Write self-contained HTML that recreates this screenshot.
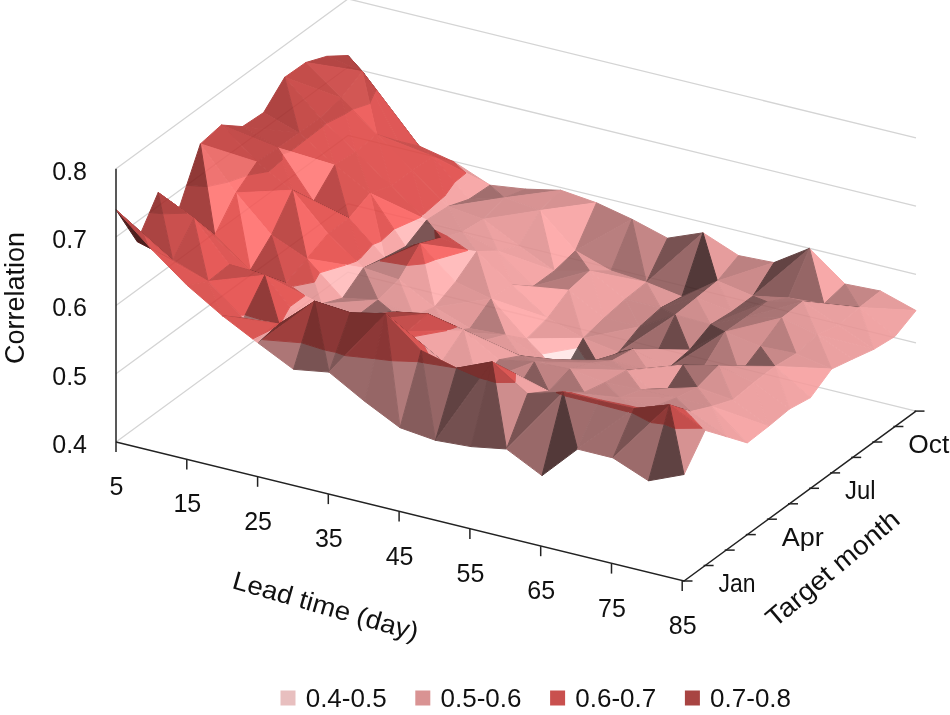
<!DOCTYPE html>
<html><head><meta charset="utf-8"><title>Correlation surface</title><style>html,body{margin:0;padding:0;background:#fff}svg{display:block}</style></head><body>
<svg width="950" height="715" viewBox="0 0 950 715">
<rect width="950" height="715" fill="#fff"/>
<g fill="none" stroke="#d4d4d4" stroke-width="1.3"><polyline points="116.0,442.0 348.0,272.1 916.0,411.1"/><polyline points="116.0,373.7 348.0,203.8 916.0,342.8"/><polyline points="116.0,305.4 348.0,135.4 916.0,274.4"/><polyline points="116.0,237.1 348.0,67.1 916.0,206.1"/><polyline points="116.0,168.8 348.0,-1.1 916.0,137.9"/></g>
<g opacity="0.88" stroke-width="1.0" stroke-linejoin="round"><polygon points="358.6,69.7 383.5,103.2 371.3,84.8" fill="#360100" stroke="#360100"/>
<polygon points="348.0,55.5 358.6,69.7 371.3,84.8 362.4,71.5" fill="#380100" stroke="#380100"/>
<polygon points="326.9,56.3 348.0,55.5 362.4,71.5" fill="#a82d2b" stroke="#a82d2b"/>
<polygon points="371.3,84.8 383.5,103.2 419.0,146.0 376.2,89.6" fill="#360100" stroke="#360100"/>
<polygon points="362.4,71.5 371.3,84.8 376.2,89.6" fill="#380100" stroke="#380100"/>
<polygon points="374.0,94.1 397.9,141.0 419.0,146.0 376.2,89.6" fill="#db4240" stroke="#db4240"/>
<polygon points="362.4,71.5 374.0,94.1 376.2,89.6" fill="#bc3432" stroke="#bc3432"/>
<polygon points="451.3,160.7 454.5,162.2 453.8,162.0" fill="#d88989" stroke="#d88989"/>
<polygon points="419.0,146.0 451.3,160.7 453.8,162.0 433.4,156.5" fill="#c43937" stroke="#c43937"/>
<polygon points="397.9,141.0 419.0,146.0 433.4,156.5" fill="#c33936" stroke="#c33936"/>
<polygon points="453.8,162.0 454.5,162.2 490.0,185.2 466.0,173.1" fill="#e29090" stroke="#e29090"/>
<polygon points="433.4,156.5 453.8,162.0 466.0,173.1" fill="#cc3c3a" stroke="#cc3c3a"/>
<polygon points="454.7,182.2 468.9,199.3 490.0,185.2 466.0,173.1" fill="#f79e9e" stroke="#f79e9e"/>
<polygon points="433.4,156.5 454.7,182.2 466.0,173.1" fill="#e04442" stroke="#e04442"/>
<polygon points="490.0,185.2 525.5,189.1 504.4,197.8" fill="#b26f6f" stroke="#b26f6f"/>
<polygon points="468.9,199.3 490.0,185.2 504.4,197.8" fill="#955b5b" stroke="#955b5b"/>
<polygon points="504.4,197.8 525.5,189.1 561.0,190.3" fill="#a56666" stroke="#a56666"/>
<polygon points="504.4,197.8 539.9,210.5 561.0,190.3" fill="#d38585" stroke="#d38585"/>
<polygon points="539.9,210.5 561.0,190.3 596.5,202.8" fill="#d18484" stroke="#d18484"/>
<polygon points="539.9,210.5 575.4,250.8 596.5,202.8" fill="#f89f9f" stroke="#f89f9f"/>
<polygon points="575.4,250.8 596.5,202.8 632.0,219.3" fill="#ad6b6b" stroke="#ad6b6b"/>
<polygon points="575.4,250.8 610.9,270.9 632.0,219.3" fill="#b06e6e" stroke="#b06e6e"/>
<polygon points="632.0,219.3 667.5,238.2 646.4,282.4" fill="#bc7676" stroke="#bc7676"/>
<polygon points="610.9,270.9 632.0,219.3 646.4,282.4" fill="#965c5c" stroke="#965c5c"/>
<polygon points="646.4,282.4 667.5,238.2 703.0,232.8" fill="#663b3b" stroke="#663b3b"/>
<polygon points="646.4,282.4 681.9,296.7 703.0,232.8" fill="#8b5555" stroke="#8b5555"/>
<polygon points="703.0,232.8 738.5,255.6 717.4,281.0" fill="#e39090" stroke="#e39090"/>
<polygon points="681.9,296.7 703.0,232.8 717.4,281.0" fill="#3c1e1e" stroke="#3c1e1e"/>
<polygon points="717.4,281.0 738.5,255.6 774.0,262.6" fill="#b37070" stroke="#b37070"/>
<polygon points="717.4,281.0 752.9,296.1 774.0,262.6" fill="#c67c7c" stroke="#c67c7c"/>
<polygon points="752.9,296.1 774.0,262.6 809.5,248.4" fill="#4e2a2a" stroke="#4e2a2a"/>
<polygon points="752.9,296.1 788.4,298.0 809.5,248.4" fill="#7a4848" stroke="#7a4848"/>
<polygon points="809.5,248.4 845.0,284.0 823.9,303.9" fill="#f79e9e" stroke="#f79e9e"/>
<polygon points="788.4,298.0 809.5,248.4 823.9,303.9" fill="#885252" stroke="#885252"/>
<polygon points="845.0,284.0 880.5,291.0 859.4,307.5" fill="#be7777" stroke="#be7777"/>
<polygon points="823.9,303.9 845.0,284.0 859.4,307.5" fill="#aa6a6a" stroke="#aa6a6a"/>
<polygon points="859.4,307.5 880.5,291.0 916.0,310.6" fill="#e29090" stroke="#e29090"/>
<polygon points="859.4,307.5 894.9,336.5 916.0,310.6" fill="#ef9999" stroke="#ef9999"/>
<polygon points="305.8,62.5 326.9,56.3 362.4,71.5" fill="#aa2d2b" stroke="#aa2d2b"/>
<polygon points="305.8,62.5 341.3,98.1 362.4,71.5" fill="#c93d3b" stroke="#c93d3b"/>
<polygon points="374.0,94.1 397.9,141.0 376.8,134.5 369.7,103.6" fill="#db4240" stroke="#db4240"/>
<polygon points="362.4,71.5 374.0,94.1 369.7,103.6" fill="#bb3432" stroke="#bb3432"/>
<polygon points="369.7,103.6 376.8,134.5 352.4,109.4" fill="#ec4e4c" stroke="#ec4e4c"/>
<polygon points="341.3,98.1 362.4,71.5 369.7,103.6 352.4,109.4" fill="#cc403d" stroke="#cc403d"/>
<polygon points="376.8,134.5 397.9,141.0 433.4,156.5" fill="#c23836" stroke="#c23836"/>
<polygon points="376.8,134.5 412.3,170.6 433.4,156.5" fill="#dc4340" stroke="#dc4340"/>
<polygon points="454.7,182.2 468.9,199.3 447.8,206.6 444.8,196.0" fill="#f49c9c" stroke="#f49c9c"/>
<polygon points="433.4,156.5 454.7,182.2 444.8,196.0" fill="#dd4341" stroke="#dd4341"/>
<polygon points="444.8,196.0 447.8,206.6 440.7,199.4" fill="#f39c9c" stroke="#f39c9c"/>
<polygon points="412.3,170.6 433.4,156.5 444.8,196.0 440.7,199.4" fill="#dc4340" stroke="#dc4340"/>
<polygon points="447.8,206.6 468.9,199.3 504.4,197.8" fill="#985d5d" stroke="#985d5d"/>
<polygon points="447.8,206.6 483.3,219.3 504.4,197.8" fill="#d18484" stroke="#d18484"/>
<polygon points="483.3,219.3 504.4,197.8 539.9,210.5" fill="#d18484" stroke="#d18484"/>
<polygon points="483.3,219.3 518.8,245.8 539.9,210.5" fill="#e49191" stroke="#e49191"/>
<polygon points="539.9,210.5 575.4,250.8 554.3,270.9" fill="#fda2a2" stroke="#fda2a2"/>
<polygon points="518.8,245.8 539.9,210.5 554.3,270.9" fill="#e08f8f" stroke="#e08f8f"/>
<polygon points="575.4,250.8 610.9,270.9 589.8,271.0" fill="#e18f8f" stroke="#e18f8f"/>
<polygon points="554.3,270.9 575.4,250.8 589.8,271.0" fill="#995e5e" stroke="#995e5e"/>
<polygon points="589.8,271.0 610.9,270.9 646.4,282.4" fill="#d08383" stroke="#d08383"/>
<polygon points="589.8,271.0 625.3,299.2 646.4,282.4" fill="#ed9797" stroke="#ed9797"/>
<polygon points="646.4,282.4 681.9,296.7 660.8,307.9" fill="#da8b8b" stroke="#da8b8b"/>
<polygon points="625.3,299.2 646.4,282.4 660.8,307.9" fill="#c57c7c" stroke="#c57c7c"/>
<polygon points="660.8,307.9 681.9,296.7 717.4,281.0" fill="#563030" stroke="#563030"/>
<polygon points="660.8,307.9 696.3,298.1 717.4,281.0" fill="#6c3f3f" stroke="#6c3f3f"/>
<polygon points="717.4,281.0 752.9,296.1 731.8,311.6" fill="#db8b8b" stroke="#db8b8b"/>
<polygon points="696.3,298.1 717.4,281.0 731.8,311.6" fill="#d78888" stroke="#d78888"/>
<polygon points="752.9,296.1 788.4,298.0 767.3,301.8" fill="#a86868" stroke="#a86868"/>
<polygon points="731.8,311.6 752.9,296.1 767.3,301.8" fill="#6d4040" stroke="#6d4040"/>
<polygon points="788.4,298.0 823.9,303.9 802.8,301.6" fill="#b87373" stroke="#b87373"/>
<polygon points="767.3,301.8 788.4,298.0 802.8,301.6" fill="#9e6161" stroke="#9e6161"/>
<polygon points="802.8,301.6 823.9,303.9 859.4,307.5" fill="#1b0707" stroke="#1b0707"/>
<polygon points="802.8,301.6 838.3,325.3 859.4,307.5" fill="#e79393" stroke="#e79393"/>
<polygon points="859.4,307.5 894.9,336.5 873.8,349.3" fill="#ee9898" stroke="#ee9898"/>
<polygon points="838.3,325.3 859.4,307.5 873.8,349.3" fill="#e89494" stroke="#e89494"/>
<polygon points="284.7,77.3 305.8,62.5 341.3,98.1" fill="#bd3532" stroke="#bd3532"/>
<polygon points="284.7,77.3 320.2,118.1 341.3,98.1" fill="#c53936" stroke="#c53936"/>
<polygon points="352.4,109.4 376.8,134.5 355.7,152.0 345.5,113.8" fill="#df4441" stroke="#df4441"/>
<polygon points="341.3,98.1 352.4,109.4 345.5,113.8" fill="#bf3633" stroke="#bf3633"/>
<polygon points="345.5,113.8 355.7,152.0 326.0,123.6" fill="#de4341" stroke="#de4341"/>
<polygon points="320.2,118.1 341.3,98.1 345.5,113.8 326.0,123.6" fill="#be3533" stroke="#be3533"/>
<polygon points="376.8,134.5 412.3,170.6 391.2,186.0" fill="#dd4340" stroke="#dd4340"/>
<polygon points="355.7,152.0 376.8,134.5 391.2,186.0" fill="#dc4340" stroke="#dc4340"/>
<polygon points="440.7,199.4 447.8,206.6 426.7,220.0 424.8,213.3" fill="#f39c9c" stroke="#f39c9c"/>
<polygon points="412.3,170.6 440.7,199.4 424.8,213.3" fill="#dc4340" stroke="#dc4340"/>
<polygon points="424.8,213.3 426.7,220.0 421.9,215.4" fill="#f29b9b" stroke="#f29b9b"/>
<polygon points="391.2,186.0 412.3,170.6 424.8,213.3 421.9,215.4" fill="#dc4240" stroke="#dc4240"/>
<polygon points="447.8,206.6 483.3,219.3 462.2,232.1" fill="#d78888" stroke="#d78888"/>
<polygon points="426.7,220.0 447.8,206.6 462.2,232.1" fill="#d58787" stroke="#d58787"/>
<polygon points="483.3,219.3 518.8,245.8 497.7,251.0" fill="#eb9696" stroke="#eb9696"/>
<polygon points="462.2,232.1 483.3,219.3 497.7,251.0" fill="#e29090" stroke="#e29090"/>
<polygon points="497.7,251.0 518.8,245.8 554.3,270.9" fill="#e99595" stroke="#e99595"/>
<polygon points="497.7,251.0 533.2,286.3 554.3,270.9" fill="#f39c9c" stroke="#f39c9c"/>
<polygon points="533.2,286.3 554.3,270.9 589.8,271.0" fill="#9d6161" stroke="#9d6161"/>
<polygon points="533.2,286.3 568.7,290.2 589.8,271.0" fill="#ac6b6b" stroke="#ac6b6b"/>
<polygon points="589.8,271.0 625.3,299.2 604.2,318.0" fill="#ed9797" stroke="#ed9797"/>
<polygon points="568.7,290.2 589.8,271.0 604.2,318.0" fill="#ec9797" stroke="#ec9797"/>
<polygon points="625.3,299.2 660.8,307.9 639.7,326.7" fill="#c37b7b" stroke="#c37b7b"/>
<polygon points="604.2,318.0 625.3,299.2 639.7,326.7" fill="#c37b7b" stroke="#c37b7b"/>
<polygon points="660.8,307.9 696.3,298.1 675.2,314.9" fill="#6c3f3f" stroke="#6c3f3f"/>
<polygon points="639.7,326.7 660.8,307.9 675.2,314.9" fill="#623838" stroke="#623838"/>
<polygon points="696.3,298.1 731.8,311.6 710.7,324.6" fill="#d88989" stroke="#d88989"/>
<polygon points="675.2,314.9 696.3,298.1 710.7,324.6" fill="#c97f7f" stroke="#c97f7f"/>
<polygon points="710.7,324.6 731.8,311.6 767.3,301.8" fill="#6f4141" stroke="#6f4141"/>
<polygon points="710.7,324.6 746.2,317.3 767.3,301.8" fill="#794848" stroke="#794848"/>
<polygon points="746.2,317.3 767.3,301.8 802.8,301.6" fill="#9b5f5f" stroke="#9b5f5f"/>
<polygon points="746.2,317.3 781.7,318.0 802.8,301.6" fill="#9f6262" stroke="#9f6262"/>
<polygon points="802.8,301.6 838.3,325.3 817.2,334.7" fill="#e89494" stroke="#e89494"/>
<polygon points="781.7,318.0 802.8,301.6 817.2,334.7" fill="#dd8d8d" stroke="#dd8d8d"/>
<polygon points="817.2,334.7 838.3,325.3 873.8,349.3" fill="#e99494" stroke="#e99494"/>
<polygon points="817.2,334.7 852.7,359.0 873.8,349.3" fill="#e99595" stroke="#e99595"/>
<polygon points="284.7,77.3 320.2,118.1 299.1,133.1" fill="#bf3633" stroke="#bf3633"/>
<polygon points="263.6,112.6 284.7,77.3 299.1,133.1" fill="#a42b29" stroke="#a42b29"/>
<polygon points="326.0,123.6 355.7,152.0 334.6,165.1 322.8,126.5" fill="#db4240" stroke="#db4240"/>
<polygon points="320.2,118.1 326.0,123.6 322.8,126.5" fill="#bb3432" stroke="#bb3432"/>
<polygon points="322.8,126.5 334.6,165.1 306.1,139.3" fill="#da423f" stroke="#da423f"/>
<polygon points="299.1,133.1 320.2,118.1 322.8,126.5 306.1,139.3" fill="#bb3431" stroke="#bb3431"/>
<polygon points="355.7,152.0 391.2,186.0 370.1,193.3" fill="#da423f" stroke="#da423f"/>
<polygon points="334.6,165.1 355.7,152.0 370.1,193.3" fill="#d7413e" stroke="#d7413e"/>
<polygon points="421.9,215.4 426.7,220.0 420.9,217.2" fill="#f19a9a" stroke="#f19a9a"/>
<polygon points="370.1,193.3 391.2,186.0 421.9,215.4 420.9,217.2" fill="#da423f" stroke="#da423f"/>
<polygon points="394.0,229.2 405.6,246.6 426.7,220.0 420.9,217.2" fill="#ffb8b8" stroke="#ffb8b8"/>
<polygon points="370.1,193.3 394.0,229.2 420.9,217.2" fill="#fb5c5a" stroke="#fb5c5a"/>
<polygon points="426.7,220.0 462.2,232.1 447.2,236.3 434.7,230.0" fill="#d68787" stroke="#d68787"/>
<polygon points="447.2,236.3 441.1,238.0 434.7,230.0" fill="#c13836" stroke="#c13836"/>
<polygon points="405.6,246.6 426.7,220.0 434.7,230.0 435.5,239.3" fill="#6a3e3e" stroke="#6a3e3e"/>
<polygon points="434.7,230.0 441.1,238.0 435.5,239.3" fill="#661412" stroke="#661412"/>
<polygon points="462.2,232.1 497.7,251.0 476.6,251.6" fill="#e08e8e" stroke="#e08e8e"/>
<polygon points="447.2,236.3 462.2,232.1 476.6,251.6 460.6,245.4" fill="#d98a8a" stroke="#d98a8a"/>
<polygon points="441.1,238.0 447.2,236.3 460.6,245.4" fill="#c43937" stroke="#c43937"/>
<polygon points="497.7,251.0 533.2,286.3 512.1,285.0" fill="#ef9999" stroke="#ef9999"/>
<polygon points="476.6,251.6 497.7,251.0 512.1,285.0" fill="#ef9898" stroke="#ef9898"/>
<polygon points="512.1,285.0 533.2,286.3 568.7,290.2" fill="#af6d6d" stroke="#af6d6d"/>
<polygon points="512.1,285.0 547.6,318.0 568.7,290.2" fill="#fba1a1" stroke="#fba1a1"/>
<polygon points="568.7,290.2 604.2,318.0 583.1,338.3" fill="#ec9797" stroke="#ec9797"/>
<polygon points="547.6,318.0 568.7,290.2 583.1,338.3" fill="#dd8c8c" stroke="#dd8c8c"/>
<polygon points="583.1,338.3 604.2,318.0 639.7,326.7" fill="#c27a7a" stroke="#c27a7a"/>
<polygon points="583.1,338.3 618.6,352.4 639.7,326.7" fill="#d08484" stroke="#d08484"/>
<polygon points="618.6,352.4 639.7,326.7 675.2,314.9" fill="#5d3535" stroke="#5d3535"/>
<polygon points="618.6,352.4 654.1,359.1 675.2,314.9" fill="#935a5a" stroke="#935a5a"/>
<polygon points="675.2,314.9 710.7,324.6 689.6,350.0" fill="#bf7878" stroke="#bf7878"/>
<polygon points="654.1,359.1 675.2,314.9 689.6,350.0" fill="#593232" stroke="#593232"/>
<polygon points="710.7,324.6 746.2,317.3 725.1,332.0" fill="#794848" stroke="#794848"/>
<polygon points="689.6,350.0 710.7,324.6 725.1,332.0" fill="#452424" stroke="#452424"/>
<polygon points="725.1,332.0 746.2,317.3 781.7,318.0" fill="#a06363" stroke="#a06363"/>
<polygon points="725.1,332.0 760.6,346.5 781.7,318.0" fill="#cd8181" stroke="#cd8181"/>
<polygon points="781.7,318.0 817.2,334.7 796.1,353.7" fill="#dc8c8c" stroke="#dc8c8c"/>
<polygon points="760.6,346.5 781.7,318.0 796.1,353.7" fill="#b06e6e" stroke="#b06e6e"/>
<polygon points="817.2,334.7 852.7,359.0 831.6,369.0" fill="#e99595" stroke="#e99595"/>
<polygon points="796.1,353.7 817.2,334.7 831.6,369.0" fill="#da8a8a" stroke="#da8a8a"/>
<polygon points="242.5,126.6 263.6,112.6 299.1,133.1" fill="#b0302e" stroke="#b0302e"/>
<polygon points="242.5,126.6 278.0,148.0 299.1,133.1" fill="#b1302e" stroke="#b1302e"/>
<polygon points="306.1,139.3 334.6,165.1 290.2,151.6" fill="#da423f" stroke="#da423f"/>
<polygon points="278.0,148.0 299.1,133.1 306.1,139.3 290.2,151.6" fill="#ba3431" stroke="#ba3431"/>
<polygon points="282.1,154.1 313.5,201.4 334.6,165.1 290.2,151.6" fill="#ff7471" stroke="#ff7471"/>
<polygon points="278.0,148.0 282.1,154.1 290.2,151.6" fill="#f16663" stroke="#f16663"/>
<polygon points="334.6,165.1 370.1,193.3 349.0,218.3" fill="#d7413e" stroke="#d7413e"/>
<polygon points="313.5,201.4 334.6,165.1 349.0,218.3" fill="#b33230" stroke="#b33230"/>
<polygon points="394.0,229.2 405.6,246.6 384.5,257.7 380.9,241.3" fill="#f69e9e" stroke="#f69e9e"/>
<polygon points="370.1,193.3 394.0,229.2 380.9,241.3" fill="#df4441" stroke="#df4441"/>
<polygon points="380.9,241.3 384.5,257.7 372.7,244.6" fill="#ffadad" stroke="#ffadad"/>
<polygon points="349.0,218.3 370.1,193.3 380.9,241.3 372.7,244.6" fill="#f0514f" stroke="#f0514f"/>
<polygon points="405.6,246.6 435.5,239.3 413.5,245.1" fill="#764646" stroke="#764646"/>
<polygon points="435.5,239.3 441.1,238.0 420.0,243.8 413.5,245.1" fill="#6a1514" stroke="#6a1514"/>
<polygon points="384.5,257.7 405.6,246.6 413.5,245.1 400.7,251.4" fill="#5d3535" stroke="#5d3535"/>
<polygon points="413.5,245.1 420.0,243.8 400.7,251.4" fill="#661412" stroke="#661412"/>
<polygon points="460.6,245.4 476.6,251.6 467.9,250.4" fill="#d98a8a" stroke="#d98a8a"/>
<polygon points="420.0,243.8 441.1,238.0 460.6,245.4 467.9,250.4" fill="#c43937" stroke="#c43937"/>
<polygon points="434.9,259.8 455.5,281.9 476.6,251.6 467.9,250.4" fill="#ffb5b5" stroke="#ffb5b5"/>
<polygon points="420.0,243.8 434.9,259.8 467.9,250.4" fill="#f85a57" stroke="#f85a57"/>
<polygon points="476.6,251.6 512.1,285.0 491.0,298.8" fill="#f19a9a" stroke="#f19a9a"/>
<polygon points="455.5,281.9 476.6,251.6 491.0,298.8" fill="#d28585" stroke="#d28585"/>
<polygon points="491.0,298.8 512.1,285.0 547.6,318.0" fill="#f19a9a" stroke="#f19a9a"/>
<polygon points="491.0,298.8 526.5,338.9 547.6,318.0" fill="#fea4a4" stroke="#fea4a4"/>
<polygon points="526.5,338.9 547.6,318.0 583.1,338.3" fill="#e18f8f" stroke="#e18f8f"/>
<polygon points="541.3,354.1 562.0,375.6 577.9,347.6" fill="#ffe5e5" stroke="#ffe5e5"/>
<polygon points="526.5,338.9 541.3,354.1 577.9,347.6 583.1,338.3" fill="#ffafaf" stroke="#ffafaf"/>
<polygon points="583.1,338.3 618.6,352.4 597.5,363.4" fill="#da8a8a" stroke="#da8a8a"/>
<polygon points="562.0,375.6 577.9,347.6 590.0,366.0" fill="#5a4444" stroke="#5a4444"/>
<polygon points="577.9,347.6 583.1,338.3 597.5,363.4 590.0,366.0" fill="#532e2e" stroke="#532e2e"/>
<polygon points="618.6,352.4 654.1,359.1 633.0,349.2" fill="#1b0707" stroke="#1b0707"/>
<polygon points="597.5,363.4 618.6,352.4 633.0,349.2" fill="#5c3434" stroke="#5c3434"/>
<polygon points="633.0,349.2 654.1,359.1 689.6,350.0" fill="#1b0707" stroke="#1b0707"/>
<polygon points="633.0,349.2 668.5,368.2 689.6,350.0" fill="#e08f8f" stroke="#e08f8f"/>
<polygon points="668.5,368.2 689.6,350.0 725.1,332.0" fill="#492727" stroke="#492727"/>
<polygon points="668.5,368.2 704.0,366.6 725.1,332.0" fill="#814d4d" stroke="#814d4d"/>
<polygon points="725.1,332.0 760.6,346.5 739.5,373.9" fill="#cf8383" stroke="#cf8383"/>
<polygon points="704.0,366.6 725.1,332.0 739.5,373.9" fill="#a66767" stroke="#a66767"/>
<polygon points="760.6,346.5 796.1,353.7 775.0,366.4" fill="#c17979" stroke="#c17979"/>
<polygon points="739.5,373.9 760.6,346.5 775.0,366.4" fill="#6e4141" stroke="#6e4141"/>
<polygon points="775.0,366.4 796.1,353.7 831.6,369.0" fill="#dc8c8c" stroke="#dc8c8c"/>
<polygon points="775.0,366.4 810.5,397.6 831.6,369.0" fill="#f69d9d" stroke="#f69d9d"/>
<polygon points="221.4,125.0 242.5,126.6 278.0,148.0" fill="#af2f2d" stroke="#af2f2d"/>
<polygon points="221.4,125.0 256.9,162.0 278.0,148.0" fill="#bd3533" stroke="#bd3533"/>
<polygon points="282.1,154.1 313.5,201.4 292.4,190.2 282.1,159.9" fill="#d9413f" stroke="#d9413f"/>
<polygon points="278.0,148.0 282.1,154.1 282.1,159.9" fill="#ba3431" stroke="#ba3431"/>
<polygon points="282.1,159.9 292.4,190.2 268.8,171.4" fill="#d7403e" stroke="#d7403e"/>
<polygon points="256.9,162.0 278.0,148.0 282.1,159.9 268.8,171.4" fill="#b83330" stroke="#b83330"/>
<polygon points="292.4,190.2 313.5,201.4 349.0,218.3" fill="#360100" stroke="#360100"/>
<polygon points="292.4,190.2 327.9,233.7 349.0,218.3" fill="#e14542" stroke="#e14542"/>
<polygon points="372.7,244.6 384.5,257.7 363.4,268.0 360.6,258.1" fill="#f49c9c" stroke="#f49c9c"/>
<polygon points="349.0,218.3 372.7,244.6 360.6,258.1" fill="#dd4340" stroke="#dd4340"/>
<polygon points="360.6,258.1 363.4,268.0 356.4,261.2" fill="#f39b9b" stroke="#f39b9b"/>
<polygon points="327.9,233.7 349.0,218.3 360.6,258.1 356.4,261.2" fill="#dc4340" stroke="#dc4340"/>
<polygon points="363.4,268.0 384.5,257.7 400.7,251.4 380.1,260.9" fill="#5e3535" stroke="#5e3535"/>
<polygon points="400.7,251.4 420.0,243.8 380.1,260.9" fill="#661412" stroke="#661412"/>
<polygon points="363.4,268.0 398.9,279.8 407.4,265.4 380.1,260.9" fill="#b57171" stroke="#b57171"/>
<polygon points="407.4,265.4 420.0,243.8 380.1,260.9" fill="#a32c2a" stroke="#a32c2a"/>
<polygon points="434.9,259.8 455.5,281.9 434.4,307.2 424.6,263.7" fill="#ffabab" stroke="#ffabab"/>
<polygon points="420.0,243.8 434.9,259.8 424.6,263.7" fill="#ee4f4d" stroke="#ee4f4d"/>
<polygon points="398.9,279.8 407.4,265.4 424.6,263.7 434.4,307.2" fill="#e69393" stroke="#e69393"/>
<polygon points="407.4,265.4 420.0,243.8 424.6,263.7" fill="#d03e3c" stroke="#d03e3c"/>
<polygon points="434.4,307.2 455.5,281.9 491.0,298.8" fill="#d98989" stroke="#d98989"/>
<polygon points="434.4,307.2 469.9,328.6 491.0,298.8" fill="#dd8c8c" stroke="#dd8c8c"/>
<polygon points="491.0,298.8 526.5,338.9 505.4,335.0" fill="#f09999" stroke="#f09999"/>
<polygon points="469.9,328.6 491.0,298.8 505.4,335.0" fill="#aa6a6a" stroke="#aa6a6a"/>
<polygon points="541.3,354.1 562.0,375.6 551.2,367.1" fill="#f6c4c4" stroke="#f6c4c4"/>
<polygon points="526.5,338.9 541.3,354.1 551.2,367.1 541.0,359.0" fill="#e69393" stroke="#e69393"/>
<polygon points="505.4,335.0 526.5,338.9 541.0,359.0" fill="#e49191" stroke="#e49191"/>
<polygon points="551.2,367.1 562.0,375.6 590.0,366.0" fill="#251818" stroke="#251818"/>
<polygon points="541.0,359.0 551.2,367.1 590.0,366.0 597.5,363.4" fill="#1b0707" stroke="#1b0707"/>
<polygon points="541.0,359.0 576.5,366.2 597.5,363.4" fill="#c07979" stroke="#c07979"/>
<polygon points="576.5,366.2 597.5,363.4 633.0,349.2" fill="#1b0707" stroke="#1b0707"/>
<polygon points="576.5,366.2 612.0,360.7 633.0,349.2" fill="#834f4f" stroke="#834f4f"/>
<polygon points="633.0,349.2 668.5,368.2 647.5,370.0" fill="#e08f8f" stroke="#e08f8f"/>
<polygon points="612.0,360.7 633.0,349.2 647.5,370.0" fill="#ca7f7f" stroke="#ca7f7f"/>
<polygon points="668.5,368.2 704.0,366.6 683.0,365.0" fill="#1b0707" stroke="#1b0707"/>
<polygon points="647.5,370.0 668.5,368.2 683.0,365.0" fill="#1b0707" stroke="#1b0707"/>
<polygon points="704.0,366.6 739.5,373.9 718.5,365.8" fill="#1b0707" stroke="#1b0707"/>
<polygon points="683.0,365.0 704.0,366.6 718.5,365.8" fill="#1b0707" stroke="#1b0707"/>
<polygon points="718.5,365.8 739.5,373.9 775.0,366.4" fill="#1b0707" stroke="#1b0707"/>
<polygon points="718.5,365.8 754.0,382.4 775.0,366.4" fill="#dd8d8d" stroke="#dd8d8d"/>
<polygon points="775.0,366.4 810.5,397.6 789.5,409.0" fill="#f09999" stroke="#f09999"/>
<polygon points="754.0,382.4 775.0,366.4 789.5,409.0" fill="#eb9696" stroke="#eb9696"/>
<polygon points="200.4,143.9 221.4,125.0 256.9,162.0" fill="#c03634" stroke="#c03634"/>
<polygon points="228.0,182.1 235.9,192.9 248.0,175.1" fill="#ff6c69" stroke="#ff6c69"/>
<polygon points="200.4,143.9 228.0,182.1 248.0,175.1 256.9,162.0" fill="#e95e5b" stroke="#e95e5b"/>
<polygon points="235.9,192.9 248.0,175.1 268.8,171.4 292.4,190.2" fill="#d6403e" stroke="#d6403e"/>
<polygon points="248.0,175.1 256.9,162.0 268.8,171.4" fill="#b73330" stroke="#b73330"/>
<polygon points="235.9,192.9 271.4,235.0 292.4,190.2" fill="#f45553" stroke="#f45553"/>
<polygon points="292.4,190.2 327.9,233.7 306.9,258.7" fill="#f55755" stroke="#f55755"/>
<polygon points="271.4,235.0 292.4,190.2 306.9,258.7" fill="#b63431" stroke="#b63431"/>
<polygon points="356.4,261.2 363.4,268.0 345.4,265.1" fill="#fba1a1" stroke="#fba1a1"/>
<polygon points="306.9,258.7 327.9,233.7 356.4,261.2 345.4,265.1" fill="#e44643" stroke="#e44643"/>
<polygon points="319.5,272.8 342.4,298.2 363.4,268.0 345.4,265.1" fill="#ffb9b9" stroke="#ffb9b9"/>
<polygon points="306.9,258.7 319.5,272.8 345.4,265.1" fill="#fc5e5b" stroke="#fc5e5b"/>
<polygon points="363.4,268.0 398.9,279.8 377.9,300.0" fill="#cf8383" stroke="#cf8383"/>
<polygon points="342.4,298.2 363.4,268.0 377.9,300.0" fill="#965c5c" stroke="#965c5c"/>
<polygon points="398.9,279.8 434.4,307.2 413.4,316.2" fill="#ec9797" stroke="#ec9797"/>
<polygon points="377.9,300.0 398.9,279.8 413.4,316.2" fill="#db8b8b" stroke="#db8b8b"/>
<polygon points="434.4,307.2 469.9,328.6 448.9,331.7" fill="#e49191" stroke="#e49191"/>
<polygon points="413.4,316.2 434.4,307.2 448.9,331.7" fill="#dd8c8c" stroke="#dd8c8c"/>
<polygon points="448.9,331.7 469.9,328.6 505.4,335.0" fill="#bd7676" stroke="#bd7676"/>
<polygon points="448.9,331.7 484.4,340.4 505.4,335.0" fill="#c77e7e" stroke="#c77e7e"/>
<polygon points="505.4,335.0 541.0,359.0 519.9,355.9" fill="#e59292" stroke="#e59292"/>
<polygon points="484.4,340.4 505.4,335.0 519.9,355.9" fill="#dc8c8c" stroke="#dc8c8c"/>
<polygon points="541.0,359.0 576.5,366.2 555.4,359.8" fill="#1b0707" stroke="#1b0707"/>
<polygon points="519.9,355.9 541.0,359.0 555.4,359.8" fill="#1b0707" stroke="#1b0707"/>
<polygon points="555.4,359.8 576.5,366.2 612.0,360.7" fill="#1b0707" stroke="#1b0707"/>
<polygon points="555.4,359.8 590.9,363.1 612.0,360.7" fill="#ae6c6c" stroke="#ae6c6c"/>
<polygon points="612.0,360.7 647.5,370.0 626.4,370.4" fill="#c77d7d" stroke="#c77d7d"/>
<polygon points="590.9,363.1 612.0,360.7 626.4,370.4" fill="#c07979" stroke="#c07979"/>
<polygon points="626.4,370.4 647.5,370.0 683.0,365.0" fill="#1b0707" stroke="#1b0707"/>
<polygon points="626.4,370.4 661.9,397.5 683.0,365.0" fill="#e89494" stroke="#e89494"/>
<polygon points="683.0,365.0 718.5,365.8 697.4,387.4" fill="#9b5f5f" stroke="#9b5f5f"/>
<polygon points="661.9,397.5 683.0,365.0 697.4,387.4" fill="#5f3636" stroke="#5f3636"/>
<polygon points="718.5,365.8 754.0,382.4 732.9,399.9" fill="#dd8c8c" stroke="#dd8c8c"/>
<polygon points="697.4,387.4 718.5,365.8 732.9,399.9" fill="#d08484" stroke="#d08484"/>
<polygon points="754.0,382.4 789.5,409.0 768.4,426.4" fill="#eb9696" stroke="#eb9696"/>
<polygon points="732.9,399.9 754.0,382.4 768.4,426.4" fill="#eb9696" stroke="#eb9696"/>
<polygon points="228.0,182.1 235.9,192.9 214.8,235.0 207.1,186.6" fill="#ff706d" stroke="#ff706d"/>
<polygon points="200.4,143.9 228.0,182.1 207.1,186.6" fill="#ed615f" stroke="#ed615f"/>
<polygon points="179.3,207.8 186.7,185.3 207.1,186.6 214.8,235.0" fill="#992826" stroke="#992826"/>
<polygon points="186.7,185.3 200.4,143.9 207.1,186.6" fill="#821e1c" stroke="#821e1c"/>
<polygon points="235.9,192.9 271.4,235.0 250.3,270.3" fill="#ff6a68" stroke="#ff6a68"/>
<polygon points="214.8,235.0 235.9,192.9 250.3,270.3" fill="#e14542" stroke="#e14542"/>
<polygon points="271.4,235.0 306.9,258.7 285.8,283.1" fill="#cf3d3b" stroke="#cf3d3b"/>
<polygon points="250.3,270.3 271.4,235.0 285.8,283.1" fill="#a82e2c" stroke="#a82e2c"/>
<polygon points="319.5,272.8 342.4,298.2 321.3,304.0 314.3,282.1" fill="#f39b9b" stroke="#f39b9b"/>
<polygon points="306.9,258.7 319.5,272.8 314.3,282.1" fill="#dc4340" stroke="#dc4340"/>
<polygon points="314.3,282.1 321.3,304.0 291.7,286.6" fill="#e08f8f" stroke="#e08f8f"/>
<polygon points="285.8,283.1 306.9,258.7 314.3,282.1 291.7,286.6" fill="#cb3c39" stroke="#cb3c39"/>
<polygon points="321.3,304.0 342.4,298.2 377.9,300.0" fill="#a86868" stroke="#a86868"/>
<polygon points="321.3,304.0 356.8,316.1 377.9,300.0" fill="#d48686" stroke="#d48686"/>
<polygon points="377.9,300.0 413.4,316.2 392.3,311.9" fill="#d98a8a" stroke="#d98a8a"/>
<polygon points="356.8,316.1 377.9,300.0 392.3,311.9" fill="#875151" stroke="#875151"/>
<polygon points="413.4,316.2 448.9,331.7 431.5,317.1 424.5,314.4" fill="#1b0707" stroke="#1b0707"/>
<polygon points="431.5,317.1 427.8,313.9 424.5,314.4" fill="#360100" stroke="#360100"/>
<polygon points="392.3,311.9 413.4,316.2 424.5,314.4 395.9,312.1" fill="#1b0707" stroke="#1b0707"/>
<polygon points="424.5,314.4 427.8,313.9 395.9,312.1" fill="#360100" stroke="#360100"/>
<polygon points="431.5,317.1 448.9,331.7 484.4,340.4 437.9,318.7" fill="#1b0707" stroke="#1b0707"/>
<polygon points="427.8,313.9 431.5,317.1 437.9,318.7" fill="#360100" stroke="#360100"/>
<polygon points="456.6,326.9 463.3,329.9 484.4,340.4 437.9,318.7" fill="#1b0707" stroke="#1b0707"/>
<polygon points="427.8,313.9 456.6,326.9 437.9,318.7" fill="#360100" stroke="#360100"/>
<polygon points="463.3,329.9 484.4,340.4 519.9,355.9" fill="#1b0707" stroke="#1b0707"/>
<polygon points="463.3,329.9 498.8,359.8 519.9,355.9" fill="#ed9898" stroke="#ed9898"/>
<polygon points="519.9,355.9 555.4,359.8 534.3,361.9" fill="#b16e6e" stroke="#b16e6e"/>
<polygon points="498.8,359.8 519.9,355.9 534.3,361.9" fill="#a96969" stroke="#a96969"/>
<polygon points="534.3,361.9 555.4,359.8 590.9,363.1" fill="#ae6c6c" stroke="#ae6c6c"/>
<polygon points="534.3,361.9 569.8,369.0 590.9,363.1" fill="#c07979" stroke="#c07979"/>
<polygon points="569.8,369.0 590.9,363.1 626.4,370.4" fill="#c17a7a" stroke="#c17a7a"/>
<polygon points="569.8,369.0 605.3,382.4 626.4,370.4" fill="#d98989" stroke="#d98989"/>
<polygon points="626.4,370.4 661.9,397.5 640.8,389.7" fill="#e59292" stroke="#e59292"/>
<polygon points="605.3,382.4 626.4,370.4 640.8,389.7" fill="#c17979" stroke="#c17979"/>
<polygon points="640.8,389.7 661.9,397.5 697.4,387.4" fill="#1b0707" stroke="#1b0707"/>
<polygon points="640.8,389.7 676.3,397.8 697.4,387.4" fill="#c57c7c" stroke="#c57c7c"/>
<polygon points="697.4,387.4 732.9,399.9 711.8,406.4" fill="#d78888" stroke="#d78888"/>
<polygon points="676.3,397.8 697.4,387.4 711.8,406.4" fill="#c87e7e" stroke="#c87e7e"/>
<polygon points="711.8,406.4 732.9,399.9 768.4,426.4" fill="#eb9696" stroke="#eb9696"/>
<polygon points="711.8,406.4 747.3,442.9 768.4,426.4" fill="#f59d9d" stroke="#f59d9d"/>
<polygon points="179.3,207.8 214.8,235.0 193.7,218.3" fill="#360100" stroke="#360100"/>
<polygon points="167.6,199.3 179.3,207.8 193.7,218.3 186.6,213.2" fill="#c93b39" stroke="#c93b39"/>
<polygon points="158.2,192.5 167.6,199.3 186.6,213.2" fill="#ac2e2c" stroke="#ac2e2c"/>
<polygon points="193.7,218.3 214.8,235.0 250.3,270.3" fill="#d03e3b" stroke="#d03e3b"/>
<polygon points="193.7,218.3 229.2,264.6 250.3,270.3" fill="#da423f" stroke="#da423f"/>
<polygon points="250.3,270.3 285.8,283.1 264.7,275.3" fill="#360100" stroke="#360100"/>
<polygon points="229.2,264.6 250.3,270.3 264.7,275.3" fill="#b43331" stroke="#b43331"/>
<polygon points="291.7,286.6 321.3,304.0 304.9,295.8" fill="#de8d8d" stroke="#de8d8d"/>
<polygon points="264.7,275.3 285.8,283.1 291.7,286.6 304.9,295.8" fill="#c93b39" stroke="#c93b39"/>
<polygon points="289.9,306.7 300.2,319.5 321.3,304.0 304.9,295.8" fill="#f89f9f" stroke="#f89f9f"/>
<polygon points="264.7,275.3 289.9,306.7 304.9,295.8" fill="#e14542" stroke="#e14542"/>
<polygon points="321.3,304.0 356.8,316.1 335.7,317.9" fill="#d38686" stroke="#d38686"/>
<polygon points="300.2,319.5 321.3,304.0 335.7,317.9" fill="#955b5b" stroke="#955b5b"/>
<polygon points="335.7,317.9 356.8,316.1 392.3,311.9" fill="#1b0707" stroke="#1b0707"/>
<polygon points="335.7,317.9 335.7,317.9 390.4,312.6 392.3,311.9" fill="#a86868" stroke="#a86868"/>
<polygon points="335.7,317.9 371.2,319.8 390.4,312.6 335.7,317.9" fill="#972725" stroke="#972725"/>
<polygon points="390.4,312.6 392.3,311.9 395.9,312.1" fill="#a96969" stroke="#a96969"/>
<polygon points="371.2,319.8 390.4,312.6 395.9,312.1 427.8,313.9" fill="#982826" stroke="#982826"/>
<polygon points="371.2,319.8 406.7,331.9 427.8,313.9" fill="#be3735" stroke="#be3735"/>
<polygon points="456.6,326.9 463.3,329.9 447.1,330.5" fill="#dc8b8b" stroke="#dc8b8b"/>
<polygon points="406.7,331.9 427.8,313.9 456.6,326.9 447.1,330.5" fill="#c73a38" stroke="#c73a38"/>
<polygon points="412.6,336.8 442.2,361.1 463.3,329.9 447.1,330.5" fill="#f09999" stroke="#f09999"/>
<polygon points="406.7,331.9 412.6,336.8 447.1,330.5" fill="#d9413f" stroke="#d9413f"/>
<polygon points="463.3,329.9 498.8,359.8 477.7,383.4" fill="#f09a9a" stroke="#f09a9a"/>
<polygon points="442.2,361.1 463.3,329.9 477.7,383.4" fill="#de8d8d" stroke="#de8d8d"/>
<polygon points="477.7,383.4 498.8,359.8 534.3,361.9" fill="#9f6262" stroke="#9f6262"/>
<polygon points="477.7,383.4 513.2,395.5 534.3,361.9" fill="#bb7575" stroke="#bb7575"/>
<polygon points="534.3,361.9 569.8,369.0 548.7,391.2" fill="#b87373" stroke="#b87373"/>
<polygon points="513.2,395.5 534.3,361.9 548.7,391.2" fill="#764646" stroke="#764646"/>
<polygon points="569.8,369.0 605.3,382.4 584.2,392.4" fill="#d98a8a" stroke="#d98a8a"/>
<polygon points="548.7,391.2 569.8,369.0 584.2,392.4" fill="#9c6060" stroke="#9c6060"/>
<polygon points="605.3,382.4 640.8,389.7 619.7,397.7" fill="#c27a7a" stroke="#c27a7a"/>
<polygon points="584.2,392.4 605.3,382.4 619.7,397.7" fill="#b87373" stroke="#b87373"/>
<polygon points="619.7,397.7 640.8,389.7 676.3,397.8" fill="#c57c7c" stroke="#c57c7c"/>
<polygon points="619.7,397.7 655.2,406.4 676.3,397.8" fill="#c87e7e" stroke="#c87e7e"/>
<polygon points="676.3,397.8 711.8,406.4 690.7,411.6" fill="#c77e7e" stroke="#c77e7e"/>
<polygon points="655.2,406.4 676.3,397.8 690.7,411.6" fill="#b87373" stroke="#b87373"/>
<polygon points="711.8,406.4 747.3,442.9 726.2,436.5" fill="#ed9797" stroke="#ed9797"/>
<polygon points="690.7,411.6 711.8,406.4 726.2,436.5" fill="#e99595" stroke="#e99595"/>
<polygon points="186.6,213.2 193.7,218.3 172.6,260.0 162.7,213.8" fill="#c33936" stroke="#c33936"/>
<polygon points="158.2,192.5 186.6,213.2 162.7,213.8" fill="#a72c2a" stroke="#a72c2a"/>
<polygon points="137.1,241.5 149.6,212.5 162.7,213.8 172.6,260.0" fill="#a02b29" stroke="#a02b29"/>
<polygon points="149.6,212.5 158.2,192.5 162.7,213.8" fill="#88201e" stroke="#88201e"/>
<polygon points="193.7,218.3 229.2,264.6 208.1,281.4" fill="#e34543" stroke="#e34543"/>
<polygon points="172.6,260.0 193.7,218.3 208.1,281.4" fill="#b63331" stroke="#b63331"/>
<polygon points="208.1,281.4 229.2,264.6 264.7,275.3" fill="#ba3533" stroke="#ba3533"/>
<polygon points="241.0,315.4 243.6,318.1 245.2,314.9" fill="#fca2a2" stroke="#fca2a2"/>
<polygon points="208.1,281.4 241.0,315.4 245.2,314.9 264.7,275.3" fill="#e44644" stroke="#e44644"/>
<polygon points="289.9,306.7 300.2,319.5 280.4,323.7" fill="#f49c9c" stroke="#f49c9c"/>
<polygon points="264.7,275.3 289.9,306.7 280.4,323.7 279.1,324.0" fill="#dd4340" stroke="#dd4340"/>
<polygon points="243.6,318.1 245.2,314.9 270.2,322.5" fill="#935a5a" stroke="#935a5a"/>
<polygon points="245.2,314.9 264.7,275.3 279.1,324.0 270.2,322.5" fill="#84201e" stroke="#84201e"/>
<polygon points="300.2,319.5 335.7,317.9 335.7,317.9 303.7,315.1" fill="#1b0707" stroke="#1b0707"/>
<polygon points="335.7,317.9 335.7,317.9 314.6,301.3 303.7,315.1" fill="#360100" stroke="#360100"/>
<polygon points="280.4,323.7 300.2,319.5 303.7,315.1" fill="#1b0707" stroke="#1b0707"/>
<polygon points="279.1,324.0 280.4,323.7 303.7,315.1 314.6,301.3" fill="#360100" stroke="#360100"/>
<polygon points="314.6,301.3 335.7,317.9 371.2,319.8" fill="#360100" stroke="#360100"/>
<polygon points="314.6,301.3 350.1,312.7 371.2,319.8" fill="#360100" stroke="#360100"/>
<polygon points="371.2,319.8 406.7,331.9 385.6,313.9" fill="#360100" stroke="#360100"/>
<polygon points="350.1,312.7 371.2,319.8 385.6,313.9" fill="#360100" stroke="#360100"/>
<polygon points="412.6,336.8 442.2,361.1 424.3,346.1" fill="#1b0707" stroke="#1b0707"/>
<polygon points="385.6,313.9 406.7,331.9 412.6,336.8 424.3,346.1" fill="#360100" stroke="#360100"/>
<polygon points="428.3,354.2 442.2,361.1 424.3,346.1" fill="#ea9696" stroke="#ea9696"/>
<polygon points="385.6,313.9 421.1,350.6 428.3,354.2 424.3,346.1" fill="#d4403d" stroke="#d4403d"/>
<polygon points="442.2,361.1 477.7,383.4 456.6,368.3" fill="#1b0707" stroke="#1b0707"/>
<polygon points="428.3,354.2 442.2,361.1 456.6,368.3 456.1,368.0" fill="#d88989" stroke="#d88989"/>
<polygon points="421.1,350.6 428.3,354.2 456.1,368.0" fill="#c33936" stroke="#c33936"/>
<polygon points="477.7,383.4 513.2,395.5 498.5,372.1 487.4,368.9" fill="#1b0707" stroke="#1b0707"/>
<polygon points="498.5,372.1 492.1,361.9 487.4,368.9" fill="#360100" stroke="#360100"/>
<polygon points="456.6,368.3 477.7,383.4 487.4,368.9 456.9,368.2" fill="#1b0707" stroke="#1b0707"/>
<polygon points="487.4,368.9 492.1,361.9 456.9,368.2" fill="#360100" stroke="#360100"/>
<polygon points="498.5,372.1 513.2,395.5 548.7,391.2 515.5,374.0" fill="#1b0707" stroke="#1b0707"/>
<polygon points="492.1,361.9 498.5,372.1 515.5,374.0" fill="#360100" stroke="#360100"/>
<polygon points="515.0,382.4 527.6,393.7 548.7,391.2 515.5,374.0" fill="#ee9898" stroke="#ee9898"/>
<polygon points="492.1,361.9 515.0,382.4 515.5,374.0" fill="#d8413e" stroke="#d8413e"/>
<polygon points="548.7,391.2 584.2,392.4 565.8,392.2 561.8,392.1" fill="#a46565" stroke="#a46565"/>
<polygon points="565.8,392.2 563.1,392.2 561.8,392.1" fill="#932624" stroke="#932624"/>
<polygon points="527.6,393.7 548.7,391.2 561.8,392.1 556.0,392.5" fill="#985d5d" stroke="#985d5d"/>
<polygon points="561.8,392.1 563.1,392.2 556.0,392.5" fill="#882120" stroke="#882120"/>
<polygon points="565.8,392.2 584.2,392.4 619.7,397.7 572.5,393.1" fill="#b67272" stroke="#b67272"/>
<polygon points="563.1,392.2 565.8,392.2 572.5,393.1" fill="#a42c2a" stroke="#a42c2a"/>
<polygon points="602.1,400.3 619.7,397.7 572.5,393.1" fill="#c67d7d" stroke="#c67d7d"/>
<polygon points="563.1,392.2 598.6,400.8 602.1,400.3 572.5,393.1" fill="#b33230" stroke="#b33230"/>
<polygon points="619.7,397.7 655.2,406.4 638.9,408.1 630.8,406.1" fill="#c67d7d" stroke="#c67d7d"/>
<polygon points="638.9,408.1 634.1,408.6 630.8,406.1" fill="#b33230" stroke="#b33230"/>
<polygon points="602.1,400.3 619.7,397.7 630.8,406.1" fill="#c27a7a" stroke="#c27a7a"/>
<polygon points="598.6,400.8 602.1,400.3 630.8,406.1 634.1,408.6" fill="#af312f" stroke="#af312f"/>
<polygon points="655.2,406.4 690.7,411.6 684.2,409.6 660.9,405.8" fill="#1b0707" stroke="#1b0707"/>
<polygon points="684.2,409.6 669.6,404.9 660.9,405.8" fill="#360100" stroke="#360100"/>
<polygon points="638.9,408.1 655.2,406.4 660.9,405.8" fill="#8e5656" stroke="#8e5656"/>
<polygon points="634.1,408.6 638.9,408.1 660.9,405.8 669.6,404.9" fill="#7f1e1c" stroke="#7f1e1c"/>
<polygon points="684.2,409.6 690.7,411.6 726.2,436.5 692.2,417.6" fill="#e39191" stroke="#e39191"/>
<polygon points="669.6,404.9 684.2,409.6 692.2,417.6" fill="#ce3d3b" stroke="#ce3d3b"/>
<polygon points="702.2,428.2 705.1,430.3 726.2,436.5 692.2,417.6" fill="#e49191" stroke="#e49191"/>
<polygon points="669.6,404.9 702.2,428.2 692.2,417.6" fill="#cf3d3b" stroke="#cf3d3b"/>
<polygon points="128.2,228.1 137.1,241.5 172.6,260.0 143.1,233.9" fill="#360100" stroke="#360100"/>
<polygon points="116.0,209.8 128.2,228.1 143.1,233.9" fill="#380100" stroke="#380100"/>
<polygon points="147.6,244.8 151.5,249.2 172.6,260.0 143.1,233.9" fill="#d5403e" stroke="#d5403e"/>
<polygon points="116.0,209.8 147.6,244.8 143.1,233.9" fill="#b63230" stroke="#b63230"/>
<polygon points="151.5,249.2 172.6,260.0 208.1,281.4" fill="#c73a38" stroke="#c73a38"/>
<polygon points="151.5,249.2 187.0,285.2 208.1,281.4" fill="#da423f" stroke="#da423f"/>
<polygon points="241.0,315.4 243.6,318.1 241.2,317.8" fill="#ef9999" stroke="#ef9999"/>
<polygon points="208.1,281.4 241.0,315.4 241.2,317.8 222.5,315.8" fill="#d9413f" stroke="#d9413f"/>
<polygon points="187.0,285.2 208.1,281.4 222.5,315.8" fill="#d7413e" stroke="#d7413e"/>
<polygon points="241.2,317.8 243.6,318.1 270.2,322.5" fill="#b87373" stroke="#b87373"/>
<polygon points="222.5,315.8 241.2,317.8 270.2,322.5 279.1,324.0" fill="#a62d2b" stroke="#a62d2b"/>
<polygon points="252.7,338.9 258.0,342.9 274.9,327.8" fill="#eb9696" stroke="#eb9696"/>
<polygon points="222.5,315.8 252.7,338.9 274.9,327.8 279.1,324.0" fill="#d5403d" stroke="#d5403d"/>
<polygon points="258.0,342.9 274.9,327.8 262.4,339.6" fill="#3c1e1e" stroke="#3c1e1e"/>
<polygon points="274.9,327.8 279.1,324.0 314.6,301.3 262.4,339.6" fill="#661412" stroke="#661412"/>
<polygon points="258.0,342.9 293.5,369.3 301.7,342.8 262.4,339.6" fill="#a26464" stroke="#a26464"/>
<polygon points="301.7,342.8 314.6,301.3 262.4,339.6" fill="#922523" stroke="#922523"/>
<polygon points="336.0,352.4 329.0,372.1 324.5,350.0" fill="#8a5454" stroke="#8a5454"/>
<polygon points="314.6,301.3 350.1,312.7 336.0,352.4 324.5,350.0" fill="#7c1c1b" stroke="#7c1c1b"/>
<polygon points="293.5,369.3 301.7,342.8 324.5,350.0 329.0,372.1" fill="#673c3c" stroke="#673c3c"/>
<polygon points="301.7,342.8 314.6,301.3 324.5,350.0" fill="#661412" stroke="#661412"/>
<polygon points="329.0,372.1 336.0,352.4 345.1,355.6" fill="#6c3f3f" stroke="#6c3f3f"/>
<polygon points="336.0,352.4 350.1,312.7 385.6,313.9 345.1,355.6" fill="#661412" stroke="#661412"/>
<polygon points="329.0,372.1 364.5,401.2 374.8,358.7 345.1,355.6" fill="#8c5555" stroke="#8c5555"/>
<polygon points="374.8,358.7 385.6,313.9 345.1,355.6" fill="#7e1d1c" stroke="#7e1d1c"/>
<polygon points="418.1,361.7 400.0,427.7 391.5,360.7" fill="#a76868" stroke="#a76868"/>
<polygon points="385.6,313.9 421.1,350.6 418.1,361.7 391.5,360.7" fill="#972725" stroke="#972725"/>
<polygon points="364.5,401.2 374.8,358.7 391.5,360.7 400.0,427.7" fill="#885252" stroke="#885252"/>
<polygon points="374.8,358.7 385.6,313.9 391.5,360.7" fill="#7a1b1a" stroke="#7a1b1a"/>
<polygon points="456.1,368.0 456.6,368.3 435.5,440.3 423.0,362.7" fill="#885252" stroke="#885252"/>
<polygon points="421.1,350.6 456.1,368.0 423.0,362.7" fill="#7a1c1a" stroke="#7a1c1a"/>
<polygon points="400.0,427.7 418.1,361.7 423.0,362.7 435.5,440.3" fill="#764646" stroke="#764646"/>
<polygon points="418.1,361.7 421.1,350.6 423.0,362.7" fill="#6a1514" stroke="#6a1514"/>
<polygon points="435.5,440.3 456.6,368.3 456.9,368.2 480.3,378.2" fill="#4c2929" stroke="#4c2929"/>
<polygon points="456.9,368.2 492.1,361.9 480.3,378.2" fill="#661412" stroke="#661412"/>
<polygon points="435.5,440.3 471.0,446.6 487.6,380.1 480.3,378.2" fill="#613838" stroke="#613838"/>
<polygon points="487.6,380.1 492.1,361.9 480.3,378.2" fill="#661412" stroke="#661412"/>
<polygon points="515.0,382.4 527.6,393.7 506.5,449.0 495.5,382.5" fill="#c87e7e" stroke="#c87e7e"/>
<polygon points="492.1,361.9 515.0,382.4 495.5,382.5" fill="#b43331" stroke="#b43331"/>
<polygon points="471.0,446.6 487.6,380.1 495.5,382.5 506.5,449.0" fill="#593232" stroke="#593232"/>
<polygon points="487.6,380.1 492.1,361.9 495.5,382.5" fill="#661412" stroke="#661412"/>
<polygon points="506.5,449.0 527.6,393.7 556.0,392.5 560.8,394.5" fill="#683c3c" stroke="#683c3c"/>
<polygon points="556.0,392.5 563.1,392.2 560.8,394.5" fill="#661412" stroke="#661412"/>
<polygon points="506.5,449.0 542.0,475.6 562.5,394.7 560.8,394.5" fill="#8c5555" stroke="#8c5555"/>
<polygon points="562.5,394.7 563.1,392.2 560.8,394.5" fill="#7e1d1c" stroke="#7e1d1c"/>
<polygon points="597.3,403.9 577.5,449.1 564.0,395.7" fill="#935a5a" stroke="#935a5a"/>
<polygon points="563.1,392.2 598.6,400.8 597.3,403.9 564.0,395.7" fill="#84201e" stroke="#84201e"/>
<polygon points="542.0,475.6 562.5,394.7 564.0,395.7 577.5,449.1" fill="#3c1e1e" stroke="#3c1e1e"/>
<polygon points="562.5,394.7 563.1,392.2 564.0,395.7" fill="#661412" stroke="#661412"/>
<polygon points="577.5,449.1 597.3,403.9 629.0,412.2" fill="#905858" stroke="#905858"/>
<polygon points="597.3,403.9 598.6,400.8 634.1,408.6 629.0,412.2" fill="#811f1d" stroke="#811f1d"/>
<polygon points="577.5,449.1 613.0,457.9 632.2,412.9 629.0,412.2" fill="#925959" stroke="#925959"/>
<polygon points="632.2,412.9 634.1,408.6 629.0,412.2" fill="#831f1e" stroke="#831f1e"/>
<polygon points="613.0,457.9 632.2,412.9 650.8,422.5" fill="#673b3b" stroke="#673b3b"/>
<polygon points="632.2,412.9 634.1,408.6 669.6,404.9 650.8,422.5" fill="#661412" stroke="#661412"/>
<polygon points="613.0,457.9 648.5,480.8 664.2,424.2 650.8,422.5" fill="#8f5757" stroke="#8f5757"/>
<polygon points="664.2,424.2 669.6,404.9 650.8,422.5" fill="#801e1c" stroke="#801e1c"/>
<polygon points="702.2,428.2 705.1,430.3 684.0,474.5 674.5,428.4" fill="#d18484" stroke="#d18484"/>
<polygon points="669.6,404.9 702.2,428.2 674.5,428.4" fill="#bd3634" stroke="#bd3634"/>
<polygon points="648.5,480.8 664.2,424.2 674.5,428.4 684.0,474.5" fill="#4a2828" stroke="#4a2828"/>
<polygon points="664.2,424.2 669.6,404.9 674.5,428.4" fill="#661412" stroke="#661412"/></g>
<g fill="none" stroke="#222" stroke-width="1.5"><path d="M116.0,168.8 L116.0,442.0" /><path d="M116.0,442.0 L684.0,581.0 L916.0,411.1" /><path d="M116.0,442.0 l0,10"/><path d="M186.8,459.4 l0,10"/><path d="M257.6,476.8 l0,10"/><path d="M328.3,494.1 l0,10"/><path d="M399.1,511.5 l0,10"/><path d="M469.9,528.9 l0,10"/><path d="M540.7,546.2 l0,10"/><path d="M611.5,563.6 l0,10"/><path d="M682.2,581.0 l0,10"/><path d="M682.5,581.0 h10"/><path d="M703.6,565.5 h10"/><path d="M724.7,550.1 h10"/><path d="M745.8,534.6 h10"/><path d="M766.9,519.2 h10"/><path d="M788.0,503.8 h10"/><path d="M809.0,488.3 h10"/><path d="M830.1,472.9 h10"/><path d="M851.2,457.4 h10"/><path d="M872.3,442.0 h10"/><path d="M893.4,426.5 h10"/><path d="M914.5,411.1 h10"/></g>
<g font-family="'Liberation Sans', Arial, sans-serif" font-size="25" fill="#111">
<text x="87" y="453.0" text-anchor="end">0.4</text>
<text x="87" y="384.7" text-anchor="end">0.5</text>
<text x="87" y="316.4" text-anchor="end">0.6</text>
<text x="87" y="248.1" text-anchor="end">0.7</text>
<text x="87" y="179.8" text-anchor="end">0.8</text>
<text transform="translate(24,298) rotate(-90)" text-anchor="middle" font-size="27">Correlation</text>
<text x="116.5" y="495.0" text-anchor="middle">5</text>
<text x="187.3" y="512.4" text-anchor="middle">15</text>
<text x="258.1" y="529.8" text-anchor="middle">25</text>
<text x="328.8" y="547.1" text-anchor="middle">35</text>
<text x="399.6" y="564.5" text-anchor="middle">45</text>
<text x="470.4" y="581.9" text-anchor="middle">55</text>
<text x="541.2" y="599.2" text-anchor="middle">65</text>
<text x="612.0" y="616.6" text-anchor="middle">75</text>
<text x="682.7" y="634.0" text-anchor="middle">85</text>
<text transform="translate(323.3,614.5) rotate(16)" text-anchor="middle" font-size="26" textLength="192" lengthAdjust="spacingAndGlyphs">Lead time (day)</text>
<text x="718.5" y="592.0" font-size="26" textLength="37" lengthAdjust="spacingAndGlyphs">Jan</text>
<text x="781.8" y="545.6" font-size="26" textLength="42" lengthAdjust="spacingAndGlyphs">Apr</text>
<text x="845.0" y="499.3" font-size="26" textLength="30.5" lengthAdjust="spacingAndGlyphs">Jul</text>
<text x="908.3" y="453.0" font-size="26" textLength="41" lengthAdjust="spacingAndGlyphs">Oct</text>
<text transform="translate(838.3,575.3) rotate(-40)" text-anchor="middle" font-size="26.5" textLength="165" lengthAdjust="spacingAndGlyphs">Target month</text>
<rect x="280.5" y="690.5" width="15" height="15" fill="#e8bfbf"/>
<text x="305.7" y="706.5" font-size="26">0.4-0.5</text>
<rect x="415.3" y="690.5" width="15" height="15" fill="#d99393"/>
<text x="440.5" y="706.5" font-size="26">0.5-0.6</text>
<rect x="550.1" y="690.5" width="15" height="15" fill="#c9504e"/>
<text x="575.3" y="706.5" font-size="26">0.6-0.7</text>
<rect x="684.9" y="690.5" width="15" height="15" fill="#a84442"/>
<text x="710.1" y="706.5" font-size="26">0.7-0.8</text>
</g>
</svg>
</body></html>
